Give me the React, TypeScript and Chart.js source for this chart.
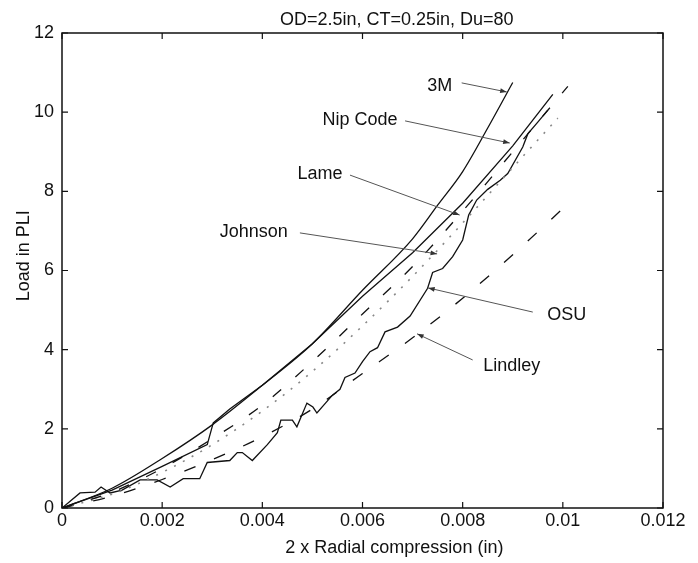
import React, { useEffect, useRef } from "react";
import { Chart, registerables } from "chart.js";

Chart.register(...registerables);

// ---- axis ticks ----
const xTicks = [0, 0.002, 0.004, 0.006, 0.008, 0.01, 0.012];
const xTickLabels = ["0", "0.002", "0.004", "0.006", "0.008", "0.01", "0.012"];
const yTicks = [0, 2, 4, 6, 8, 10, 12];
const yTickLabels = ["0", "2", "4", "6", "8", "10", "12"];

const titleText = "OD=2.5in, CT=0.25in, Du=80";
const xTitle = "2 x Radial compression (in)";
const yTitle = "Load in PLI";

// ---- series ----
const m3X = [0, 0.001, 0.002, 0.003, 0.004, 0.005, 0.006, 0.007, 0.0075, 0.008, 0.0085, 0.009];
const m3Y = [0, 0.5, 1.25, 2.1, 3.1, 4.15, 5.5, 6.8, 7.65, 8.5, 9.6, 10.75];

const nipX = [0, 0.001, 0.002, 0.0029, 0.00302, 0.00335, 0.004, 0.005, 0.006, 0.007, 0.008, 0.009, 0.0098];
const nipY = [0, 0.45, 1.05, 1.6, 2.15, 2.5, 3.1, 4.15, 5.35, 6.45, 7.7, 9.15, 10.45];

const lameX = [0, 0.001, 0.002, 0.003, 0.004, 0.005, 0.006, 0.007, 0.008, 0.009, 0.0101];
const lameY = [0, 0.4, 1.0, 1.75, 2.6, 3.7, 4.9, 6.1, 7.5, 9.0, 10.65];

const johnsonX = [0, 0.001, 0.002, 0.003, 0.004, 0.005, 0.006, 0.007, 0.008, 0.009, 0.0099];
const johnsonY = [0, 0.35, 0.9, 1.6, 2.45, 3.45, 4.6, 5.85, 7.2, 8.6, 9.85];

const lindleyX = [0, 0.001, 0.002, 0.003, 0.004, 0.005, 0.006, 0.007, 0.008, 0.009, 0.0102];
const lindleyY = [0, 0.3, 0.72, 1.22, 1.8, 2.5, 3.4, 4.3, 5.3, 6.4, 7.8];

const osuX = [0, 0.00036, 0.00066, 0.00078, 0.00096, 0.0012, 0.00156, 0.0019, 0.00216, 0.00242, 0.00275,
  0.0029, 0.00335, 0.0035, 0.0036, 0.0038, 0.0041, 0.0043, 0.00437, 0.0046, 0.00469, 0.00489, 0.00501,
  0.00509, 0.0054, 0.00555, 0.00565, 0.00585, 0.006, 0.00615, 0.0063, 0.00645, 0.0067, 0.00695, 0.0073,
  0.0074, 0.0076, 0.0078, 0.008, 0.00812, 0.00828, 0.0085, 0.00875, 0.0089, 0.0092, 0.0093, 0.0095, 0.0097];
const osuY = [0, 0.38, 0.4, 0.53, 0.38, 0.45, 0.71, 0.71, 0.53, 0.74, 0.74,
  1.15, 1.2, 1.4, 1.4, 1.2, 1.6, 1.9, 2.22, 2.22, 2.05, 2.65, 2.55,
  2.4, 2.85, 3.0, 3.3, 3.41, 3.7, 3.95, 4.05, 4.45, 4.57, 4.85, 5.55,
  5.95, 6.05, 6.35, 6.77, 7.4, 7.78, 8.05, 8.28, 8.45, 9.12, 9.45, 9.75, 10.05];

// ---- annotations (data coordinates) ----
const annLabels = ["3M", "Nip Code", "Lame", "Johnson", "OSU", "Lindley"];
const annTextX = [0.00754, 0.00595, 0.00515, 0.00383, 0.01008, 0.00898];
const annTextY = [10.66, 9.8, 8.44, 6.97, 4.88, 3.59];
const annFromX = [0.00798, 0.00685, 0.00575, 0.00475, 0.0094, 0.0082];
const annFromY = [10.74, 9.78, 8.41, 6.95, 4.95, 3.74];
const annTipX = [0.00888, 0.00894, 0.00794, 0.00749, 0.00731, 0.00709];
const annTipY = [10.51, 9.22, 7.4, 6.42, 5.56, 4.4];

const FONT = '"Liberation Sans", Arial, Helvetica, sans-serif';

const pts = (xs: number[], ys: number[]) => xs.map((x, i) => ({ x, y: ys[i] }));

const decorPlugin = {
  id: "decor",
  afterDatasetsDraw(chart: any) {
    const { ctx, chartArea: a, scales } = chart;
    const xs = scales.x;
    const ys = scales.y;
    ctx.save();
    // frame
    ctx.strokeStyle = "#111";
    ctx.lineWidth = 1.5;
    ctx.strokeRect(a.left, a.top, a.right - a.left, a.bottom - a.top);
    // inward ticks
    ctx.lineWidth = 1.2;
    const tl = 6;
    xTicks.forEach((v) => {
      const px = xs.getPixelForValue(v);
      ctx.beginPath();
      ctx.moveTo(px, a.bottom);
      ctx.lineTo(px, a.bottom - tl);
      ctx.moveTo(px, a.top);
      ctx.lineTo(px, a.top + tl);
      ctx.stroke();
    });
    yTicks.forEach((v) => {
      const py = ys.getPixelForValue(v);
      ctx.beginPath();
      ctx.moveTo(a.left, py);
      ctx.lineTo(a.left + tl, py);
      ctx.moveTo(a.right, py);
      ctx.lineTo(a.right - tl, py);
      ctx.stroke();
    });
    // annotations
    ctx.font = `18px ${FONT}`;
    ctx.fillStyle = "#111";
    ctx.textAlign = "center";
    ctx.textBaseline = "middle";
    annLabels.forEach((lab, i) => {
      ctx.fillStyle = "#111";
      ctx.fillText(lab, xs.getPixelForValue(annTextX[i]), ys.getPixelForValue(annTextY[i]));
      const x0 = xs.getPixelForValue(annFromX[i]);
      const y0 = ys.getPixelForValue(annFromY[i]);
      const x1 = xs.getPixelForValue(annTipX[i]);
      const y1 = ys.getPixelForValue(annTipY[i]);
      ctx.strokeStyle = "#555";
      ctx.lineWidth = 1;
      ctx.beginPath();
      ctx.moveTo(x0, y0);
      ctx.lineTo(x1, y1);
      ctx.stroke();
      const ang = Math.atan2(y1 - y0, x1 - x0);
      const L = 7;
      const w = 0.35;
      ctx.fillStyle = "#333";
      ctx.beginPath();
      ctx.moveTo(x1, y1);
      ctx.lineTo(x1 - L * Math.cos(ang - w), y1 - L * Math.sin(ang - w));
      ctx.lineTo(x1 - L * Math.cos(ang + w), y1 - L * Math.sin(ang + w));
      ctx.closePath();
      ctx.fill();
    });
    // title & axis titles
    ctx.fillStyle = "#111";
    ctx.textBaseline = "alphabetic";
    ctx.textAlign = "center";
    const w = a.right - a.left;
    ctx.fillText(titleText, a.left + w * 0.557, a.top - 8);
    ctx.fillText(xTitle, a.left + w * 0.553, a.bottom + 45);
    ctx.translate(a.left - 33, a.top + (a.bottom - a.top) * 0.469);
    ctx.rotate(-Math.PI / 2);
    ctx.fillText(yTitle, 0, 0);
    ctx.restore();
  },
};

export default function App() {
  const ref = useRef<HTMLCanvasElement | null>(null);
  useEffect(() => {
    if (!ref.current) return;
    const solid = { borderColor: "#111", borderWidth: 1.3, pointRadius: 0, showLine: true, fill: false };
    const chart = new Chart(ref.current, {
      type: "scatter",
      data: {
        datasets: [
          { ...solid, label: "3M", data: pts(m3X, m3Y), cubicInterpolationMode: "monotone" },
          { ...solid, label: "Nip Code", data: pts(nipX, nipY), tension: 0 },
          { ...solid, label: "Lame", data: pts(lameX, lameY), cubicInterpolationMode: "monotone", borderDash: [11, 19] },
          { ...solid, label: "Johnson", data: pts(johnsonX, johnsonY), cubicInterpolationMode: "monotone", borderColor: "#888", borderWidth: 1.6, borderDash: [2, 8] },
          { ...solid, label: "OSU", data: pts(osuX, osuY), tension: 0 },
          { ...solid, label: "Lindley", data: pts(lindleyX, lindleyY), cubicInterpolationMode: "monotone", borderDash: [12, 20] },
        ],
      } as any,
      options: {
        animation: false,
        responsive: false,
        devicePixelRatio: 1,
        layout: { padding: { top: 33, right: 35, left: 0, bottom: 0 } },
        plugins: { legend: { display: false }, tooltip: { enabled: false }, title: { display: false } },
        scales: {
          x: {
            type: "linear",
            min: 0,
            max: 0.012,
            grid: { display: false, drawTicks: false },
            border: { display: false },
            afterBuildTicks: (s: any) => {
              s.ticks = xTicks.map((v) => ({ value: v }));
            },
            afterFit: (s: any) => {
              s.height = 55;
            },
            ticks: {
              padding: 2,
              color: "#111",
              font: { size: 18, family: FONT },
              maxRotation: 0,
              autoSkip: false,
              callback: (_v: any, i: number) => xTickLabels[i],
            },
          },
          y: {
            type: "linear",
            min: 0,
            max: 12,
            grid: { display: false, drawTicks: false },
            border: { display: false },
            afterBuildTicks: (s: any) => {
              s.ticks = yTicks.map((v) => ({ value: v }));
            },
            afterFit: (s: any) => {
              s.width = 62;
            },
            ticks: {
              padding: 8,
              color: "#111",
              font: { size: 18, family: FONT },
              autoSkip: false,
              callback: (_v: any, i: number) => yTickLabels[i],
            },
          },
        },
      } as any,
      plugins: [decorPlugin],
    });
    return () => chart.destroy();
  }, []);
  return (
    <div style={{ position: "absolute", left: 0, top: 0, width: 698, height: 563, background: "#fff" }}>
      <canvas ref={ref} width={698} height={563} style={{ display: "block" }} />
    </div>
  );
}
